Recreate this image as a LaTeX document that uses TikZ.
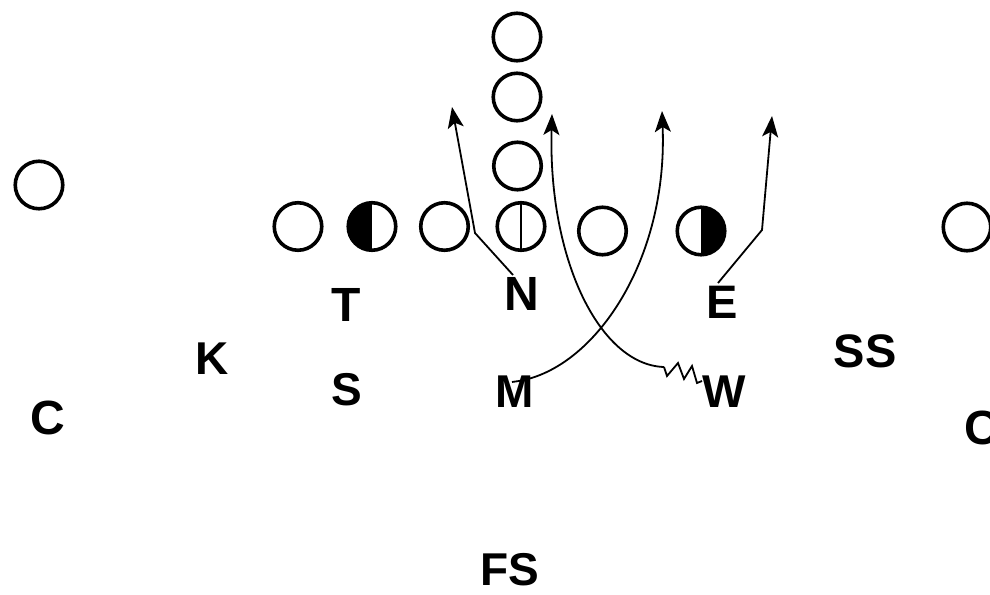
\documentclass[tikz,border=0pt]{standalone}
\usepackage{fontspec}
\setmainfont{Liberation Sans}
\usetikzlibrary{arrows.meta}
\begin{document}
\begin{tikzpicture}[x=1pt,y=-1pt,
  player/.style={circle,draw,line width=3.6pt,minimum size=47.5pt,inner sep=0pt},
  leftdark/.style={player,path picture={\fill (path picture bounding box.south) rectangle (path picture bounding box.north west);}},
  rightdark/.style={player,path picture={\fill (path picture bounding box.south) rectangle (path picture bounding box.north east);}},
  centre/.style={player,path picture={\draw[line width=2.8pt] (path picture bounding box.north) -- (path picture bounding box.south);}},
  lbl/.style={anchor=base,inner sep=0pt,font=\fontsize{#1}{#1}\selectfont\bfseries},
  route/.style={line width=1.8pt,-{Stealth[length=21pt,width=16pt,inset=5pt]}},
  plain/.style={line width=1.8pt}
]
\useasboundingbox (0,0) rectangle (990,594);
% offense
\node[player] (o1) at (298,226.5) {};
\node[leftdark] (o2) at (372,226.5) {};
\node[player] (o3) at (444.5,226.5) {};
\node[centre] (o4) at (521,226.5) {};
\node[player] (o5) at (602.5,231) {};
\node[rightdark] (o6) at (701,231) {};
\node[player] (b1) at (517.5,166) {};
\node[player] (b2) at (517,97) {};
\node[player] (b3) at (517,37) {};
\node[player] (wl) at (39,185) {};
\node[player] (wr) at (967,227) {};
% defense labels
\node[lbl=48] (T) at (346,321) {T};
\node[lbl=48] (N) at (522,310) {N};
\node[lbl=47] (E) at (722,318) {E};
\node[lbl=46] (K) at (212,374) {K};
\node[lbl=46] (S) at (347,405) {S};
\node[lbl=46] (M) at (515,407) {M};
\node[lbl=46] (W) at (724,407) {W};
\node[lbl=47] (SS) at (865,367) {SS};
\node[lbl=48] (CL) at (48,434) {C};
\node[lbl=48] (CR) at (982,444) {C};
\node[lbl=46] (FS) at (510,585) {FS};
% route coordinates
\coordinate (nstart) at (513,275);
\coordinate (nbend) at (475,233);
\coordinate (nend) at (452,107);
\coordinate (estart) at (718,283);
\coordinate (ebend) at (762,230);
\coordinate (eend) at (772,116);
\coordinate (mstart) at (512,382);
\coordinate (mend) at (662,111);
\coordinate (wstart) at (702,381);
\coordinate (wz) at (664,367);
\coordinate (wend) at (552,114);
% routes
\draw[route] (mstart) -- (519,381) .. controls (595,368) and (668,260) .. (mend);
\draw[route] (nstart) -- (nbend) -- (nend);
\draw[route] (estart) -- (ebend) -- (eend);
\draw[plain,line join=miter] (wstart) -- (697,383) -- (692,366) -- (684,379) -- (678,363) -- (667,376) -- (wz);
\draw[route] (wz) .. controls (600,365) and (548,260) .. (wend);
\end{tikzpicture}
\end{document}
